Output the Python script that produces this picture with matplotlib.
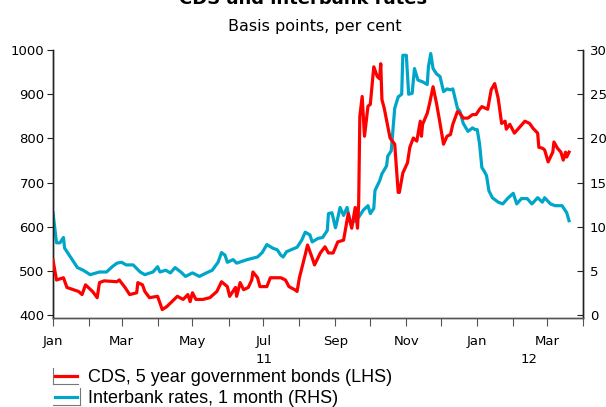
import matplotlib
matplotlib.use('Agg')
import matplotlib.pyplot as plt
import matplotlib.dates as mdates
from matplotlib.ticker import FuncFormatter
from matplotlib.lines import Line2D
from matplotlib.transforms import blended_transform_factory
import pandas as pd

start = pd.Timestamp('2011-01-01')

# CDS, 5 year government bonds (LHS, basis points) - days since 1 Jan 2011
cds_days = [0, 3, 9, 12, 22, 25, 28, 34, 38, 40, 44, 55, 57, 62, 66, 72, 73, 77, 79, 83,
            90, 94, 98, 107, 112, 116, 118, 120, 123, 129, 135, 141, 145, 150, 152, 157, 158, 161, 164, 168,
            171, 172, 176, 178, 184, 187, 196, 200, 203, 208, 210, 212, 217, 219, 223, 225, 230, 234, 237, 241,
            245, 250, 254, 257, 260, 262, 263, 264, 266, 268, 271, 273, 276, 279, 281, 282, 283, 285, 290, 294,
            297, 298, 301, 305, 307, 310, 313, 316, 317, 318, 322, 324, 327, 330, 333, 336, 339, 342, 344, 348,
            350, 353, 357, 361, 364, 367, 369, 374, 377, 380, 383, 386, 389, 390, 393, 397, 402, 406, 410, 413,
            417, 418, 421, 423, 426, 430, 431, 434, 437, 439, 441, 442, 444]
cds_values = [525, 480, 485, 463, 454, 447, 469, 454, 440, 474, 478, 476, 480, 463, 447, 451, 474, 469, 454, 440,
              443, 413, 420, 443, 436, 447, 431, 451, 436, 436, 440, 454, 476, 465, 443, 463, 443, 474, 458, 463,
              480, 498, 485, 465, 465, 485, 485, 480, 465, 458, 454, 485, 537, 559, 530, 514, 541, 555, 541, 541,
              566, 570, 630, 597, 644, 597, 653, 850, 895, 805, 873, 877, 962, 940, 935, 969, 888, 868, 801, 787,
              678, 678, 722, 745, 780, 801, 794, 839, 805, 832, 857, 879, 917, 879, 834, 787, 805, 809, 832, 861,
              857, 846, 846, 854, 854, 866, 872, 866, 910, 924, 891, 834, 839, 821, 832, 812, 827, 839, 834, 823,
              812, 780, 778, 774, 747, 769, 792, 778, 769, 751, 769, 758, 769]

# Interbank rates, 1 month (RHS, per cent) - days since 1 Jan 2011
ib_days = [0, 3, 6, 9, 10, 15, 21, 26, 32, 40, 46, 51, 55, 59, 63, 69, 75, 79, 86, 90,
           92, 97, 101, 105, 110, 114, 120, 126, 132, 137, 142, 145, 148, 150, 155, 158, 167, 176, 180, 184,
           189, 193, 196, 198, 201, 210, 214, 217, 221, 223, 228, 232, 236, 237, 240, 243, 244, 247, 250, 253,
           256, 258, 263, 267, 271, 273, 276, 277, 281, 283, 287, 288, 291, 294, 297, 300, 301, 304, 306, 309,
           311, 314, 318, 322, 323, 325, 327, 330, 333, 336, 339, 342, 344, 348, 350, 353, 357, 361, 363, 365,
           367, 369, 371, 373, 375, 378, 383, 387, 391, 396, 399, 403, 408, 412, 417, 421, 423, 428, 432, 438,
           442, 444]
ib_values = [11.6, 8.2, 8.2, 8.8, 7.6, 6.6, 5.4, 5.1, 4.6, 4.9, 4.9, 5.5, 5.9, 6.0, 5.7, 5.7, 4.9, 4.6, 4.9, 5.5,
             4.9, 5.1, 4.8, 5.4, 4.9, 4.4, 4.8, 4.4, 4.8, 5.1, 6.0, 7.1, 6.8, 6.0, 6.3, 5.9, 6.3, 6.6, 7.1, 8.0,
             7.6, 7.4, 6.8, 6.6, 7.2, 7.7, 8.5, 9.4, 9.1, 8.3, 8.7, 8.8, 9.6, 11.5, 11.6, 9.9, 10.4, 12.2, 11.3, 12.2,
             10.4, 10.5, 11.1, 11.9, 12.4, 11.5, 12.1, 14.1, 15.2, 16.0, 16.9, 18.0, 18.6, 23.4, 24.7, 25.0, 29.4, 29.4, 25.0, 25.1,
             27.9, 26.6, 26.4, 26.1, 28.1, 29.6, 27.9, 27.3, 27.0, 25.3, 25.6, 25.5, 25.6, 23.4, 23.1, 21.7, 20.8, 21.2, 21.0, 21.0,
             19.4, 16.7, 16.3, 15.8, 14.1, 13.3, 12.8, 12.6, 13.2, 13.8, 12.6, 13.2, 13.2, 12.6, 13.3, 12.8, 13.3, 12.6, 12.4, 12.4,
             11.6, 10.7]

cds_label = 'CDS, 5 year government bonds (LHS)'
ib_label = 'Interbank rates, 1 month (RHS)'
title = 'CDS and interbank rates'
subtitle = 'Basis points, per cent'
left_ticks = [400, 500, 600, 700, 800, 900, 1000]
right_ticks = [0, 5, 10, 15, 20, 25, 30]
year_labels = ['11', '12']

cds_dates = start + pd.to_timedelta(cds_days, unit='D')
ib_dates = start + pd.to_timedelta(ib_days, unit='D')

RED = '#ff0000'
BLUE = '#00a6c9'
W, H = 606, 407

plt.rcParams['font.family'] = ['DejaVu Sans']
fig = plt.figure(figsize=(W / 100, H / 100), dpi=100)
ax = fig.add_axes([53 / W, 1 - 318 / H, (583 - 53) / W, (318 - 50) / H])
ax2 = ax.twinx()

ax.plot(cds_dates, cds_values, color=RED, lw=2.3, zorder=3)
ax2.plot(ib_dates, ib_values, color=BLUE, lw=2.3, zorder=2)
ax.set_zorder(ax2.get_zorder() + 1)
ax.patch.set_visible(False)

ax.set_xlim(pd.Timestamp('2011-01-01'), pd.Timestamp('2012-04-01'))
ax.set_ylim(394, 1000)
ax2.set_ylim(-0.3, 30)
ax.set_yticks(left_ticks)
ax2.set_yticks(right_ticks)

ax.xaxis.set_major_locator(mdates.MonthLocator())
ax.xaxis.set_major_formatter(FuncFormatter(
    lambda v, p: mdates.num2date(v).strftime('%b') if mdates.num2date(v).month % 2 == 1 else ''))

for a in (ax, ax2):
    a.spines['top'].set_visible(False)
    for s in ('left', 'right'):
        a.spines[s].set_color('#222222')
        a.spines[s].set_linewidth(1.0)
    a.spines['bottom'].set_color('#555555')
    a.spines['bottom'].set_linewidth(1.0)

ax.tick_params(axis='y', direction='out', length=4, width=0.8, labelsize=9.5, pad=2, colors='#222222', labelcolor='black')
ax2.tick_params(axis='y', direction='in', length=4, width=0.8, labelsize=9.5, pad=5, colors='#222222', labelcolor='black')
ax.tick_params(axis='x', direction='out', length=6, width=0.8, labelsize=9.5, pad=6, colors='#555555', labelcolor='black')

trans = blended_transform_factory(ax.transData, ax.transAxes)
ax.text(pd.Timestamp('2011-07-02'), -0.13, year_labels[0], transform=trans, ha='center', va='top', fontsize=9.5)
ax.text(pd.Timestamp('2012-02-15'), -0.13, year_labels[1], transform=trans, ha='center', va='top', fontsize=9.5)

fig.text(0.5, 1 - 4 / H, title, ha='center', va='baseline', fontsize=13, fontweight='bold')
fig.text(315 / W, 1 - 31 / H, subtitle, ha='center', va='baseline', fontsize=11.5)

handles = [Line2D([], [], color=RED, lw=2.3), Line2D([], [], color=BLUE, lw=2.3)]
fig.legend(handles, [cds_label, ib_label], loc='upper left', bbox_to_anchor=(55 / W, 1 - 369 / H),
           frameon=False, handlelength=1.2, handletextpad=0.6, labelspacing=0.22,
           borderaxespad=0, borderpad=0, prop={'family': 'Liberation Sans', 'size': 13})

# decorative grey brackets around the legend keys
for seg in [((53, 53), (368, 384)), ((53, 78), (384, 384)), ((80, 80), (388, 405)), ((53, 80), (405, 405))]:
    fig.add_artist(Line2D([x / W for x in seg[0]], [1 - y / H for y in seg[1]], color='#777777', lw=0.8))

fig.savefig('out.png', dpi=100)
